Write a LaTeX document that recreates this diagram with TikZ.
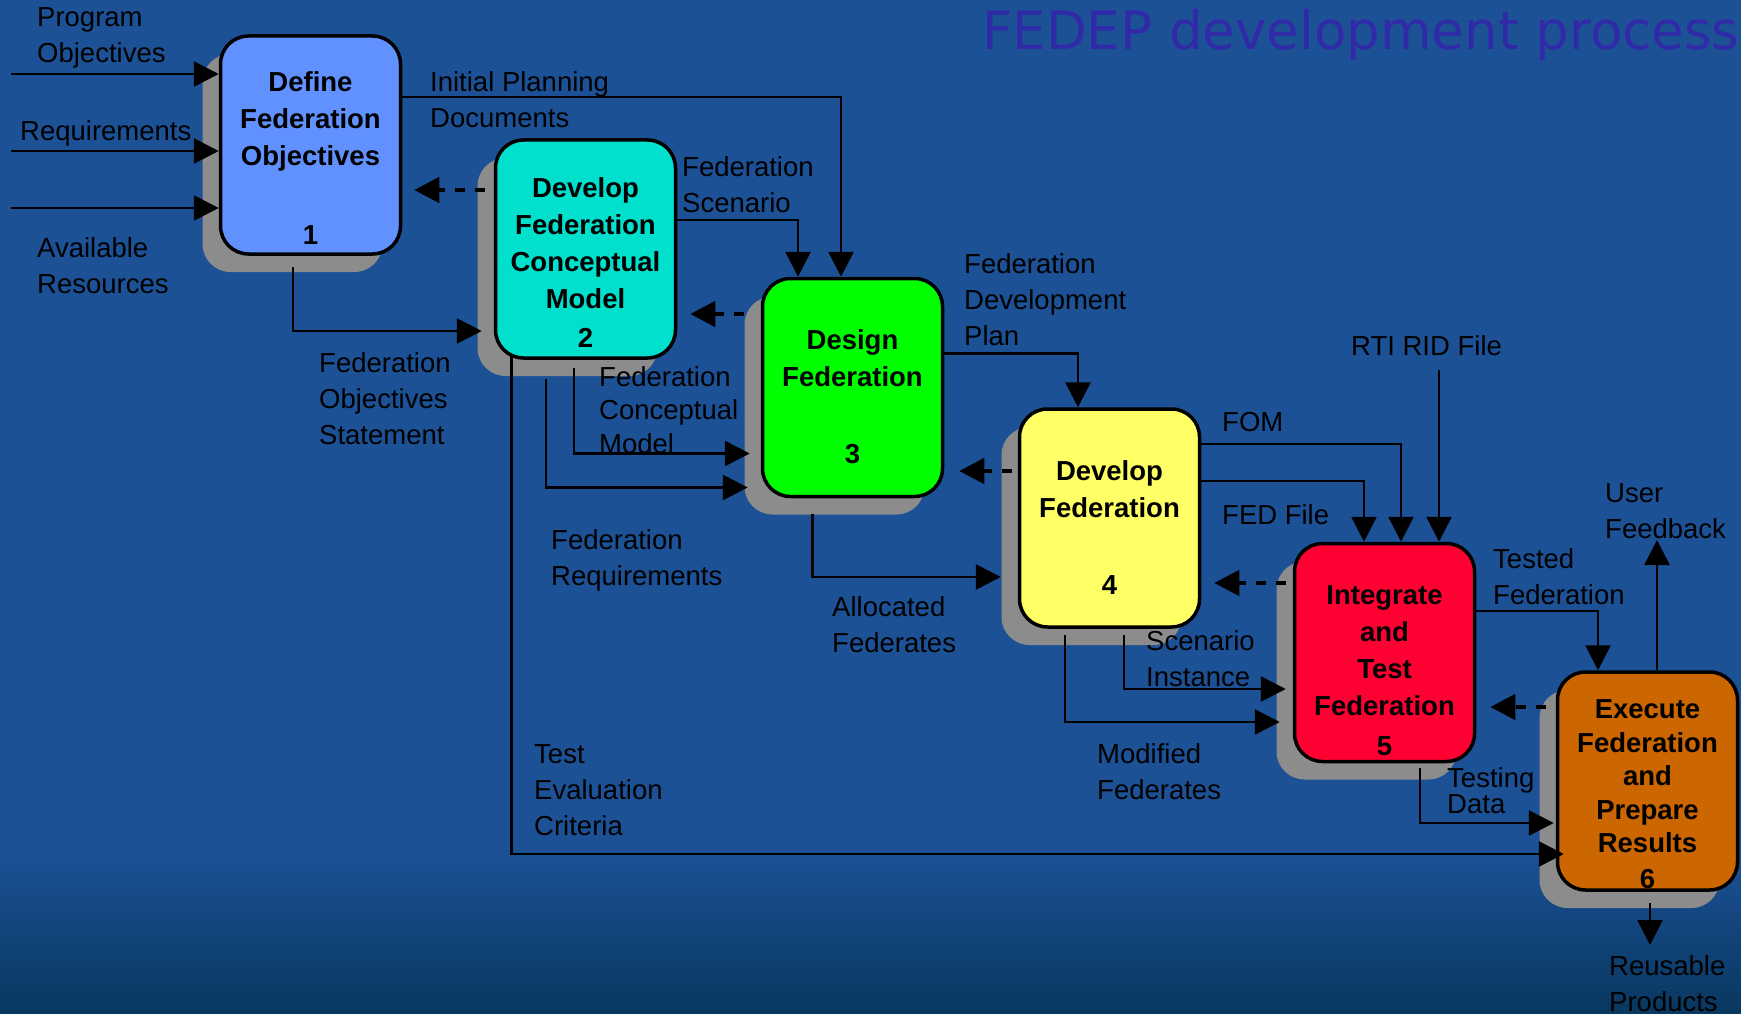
\documentclass[tikz,border=0pt]{standalone}
\usepackage{fontspec}
\setmainfont{Liberation Sans}
\newfontfamily\titlefont{DejaVu Sans}
\usetikzlibrary{arrows.meta,calc,shadows}
\definecolor{bgblue}{RGB}{28,81,150}
\definecolor{bgdark}{RGB}{8,55,95}
\definecolor{titleblue}{RGB}{48,42,168}
\definecolor{shadowgray}{RGB}{140,140,140}
\definecolor{defblue}{RGB}{97,145,255}
\definecolor{cmcyan}{RGB}{0,224,204}
\definecolor{desgreen}{RGB}{0,255,0}
\definecolor{devyellow}{RGB}{255,255,102}
\definecolor{intred}{RGB}{255,0,51}
\definecolor{exeorange}{RGB}{204,102,0}
\tikzset{
  procbox/.style={draw=black, line width=3.5pt, rounded corners=28pt, minimum width=180pt, minimum height=218pt, inner sep=0pt,
    drop shadow={shadow xshift=-18pt, shadow yshift=-18pt, fill=shadowgray, opacity=1}},
  boxtitle/.style={align=center, inner sep=0pt, font=\fontsize{27.5}{37}\selectfont\bfseries},
  boxnum/.style={inner sep=0pt, font=\fontsize{27.5}{37}\selectfont\bfseries},
  flowlabel/.style={align=left, anchor=west, inner sep=0pt, font=\fontsize{27.5}{36}\selectfont},
  flow/.style={line width=2.7pt, -{Triangle[length=25pt,width=25pt]}},
  fback/.style={flow, line width=4.5pt, dash pattern=on 10pt off 10pt}
}
\begin{document}
\begin{tikzpicture}[x=1pt, y=-1pt]
% background
\fill[bgblue] (0,0) rectangle (1741,1014);
\shade[top color=bgblue, bottom color=bgdark] (0,850) rectangle (1741,1014);
\useasboundingbox (0,0) rectangle (1741,1014);
\node[anchor=base west, inner sep=0pt, text=titleblue, font=\titlefont\fontsize{53}{60}\selectfont] (title) at (982,50) {FEDEP development process};

% process steps
\node[procbox, fill=defblue] (defobj) at (310.5,145) {};
\node[procbox, fill=cmcyan] (concept) at (585.5,249) {};
\node[procbox, fill=desgreen] (design) at (852.5,387.5) {};
\node[procbox, fill=devyellow] (develop) at (1109.5,518) {};
\node[procbox, fill=intred] (integ) at (1384.5,652.5) {};
\node[procbox, fill=exeorange] (execute) at (1647.5,781) {};

\node[boxtitle] (defobjtxt) at ($(defobj.north)+(0,87)$) {Define\\Federation\\Objectives};
\node[boxnum] (defobjnum) at ($(defobj.south)+(0,-21)$) {1};
\node[boxtitle] (concepttxt) at ($(concept.north)+(0,105)$) {Develop\\Federation\\Conceptual\\Model};
\node[boxnum] (conceptnum) at ($(concept.south)+(0,-22)$) {2};
\node[boxtitle] (designtxt) at ($(design.north)+(0,81)$) {Design\\Federation};
\node[boxnum] (designnum) at ($(design.south)+(0,-44)$) {3};
\node[boxtitle] (developtxt) at ($(develop.north)+(0,81.5)$) {Develop\\Federation};
\node[boxnum] (developnum) at ($(develop.south)+(0,-44)$) {4};
\node[boxtitle] (integtxt) at ($(integ.north)+(0,109)$) {Integrate\\and\\Test\\Federation};
\node[boxnum] (integnum) at ($(integ.south)+(0,-17)$) {5};
\node[boxtitle, font=\fontsize{27.5}{33.5}\selectfont\bfseries] (executetxt) at ($(execute.north)+(0,106)$) {Execute\\Federation\\and\\Prepare\\Results};
\node[boxnum] (executenum) at ($(execute.south)+(0,-13)$) {6};

% inputs
\coordinate (progin) at (11,74);
\coordinate (reqin) at (11,151);
\coordinate (resin) at (11,208);
\draw[flow] (progin) -- (progin -| defobj.west);
\draw[flow] (reqin) -- (reqin -| defobj.west);
\draw[flow] (resin) -- (resin -| defobj.west);

% products passed forward
\draw[flow] ($(defobj.east)+(0,-48)$) -| ($(design.north)+(-11.5,0)$);
\draw[flow] ($(concept.east)+(0,-29)$) -| ($(design.north)+(-54.5,0)$);
\draw[flow] ($(defobj.south)+(-17.5,11)$) |- ($(concept.west)+(-12,82)$);
\draw[flow] ($(concept.south)+(-11.5,8)$) |- ($(design.west)+(-11,66)$);
\draw[flow] ($(concept.south)+(-39.5,19)$) |- ($(design.west)+(-13,100)$);
\draw[flow] ($(concept.south west)+(17.5,-6)$) |- ($(execute.west)+(8,73)$);
\draw[flow] ($(design.east)+(0,-34)$) -| ($(develop.north)+(-31.5,0)$);
\draw[flow] ($(design.south)+(-40,16)$) |- ($(develop.west)+(-17,59)$);
\draw[flow] ($(develop.east)+(0,-74)$) -| ($(integ.north)+(16.5,0)$);
\draw[flow] ($(develop.east)+(0,-37)$) -| ($(integ.north)+(-20.5,0)$);
\coordinate (rtiin) at (1439,370);
\draw[flow] (rtiin) -- ($(integ.north)+(54.5,0)$);
\draw[flow] ($(develop.south)+(14.5,6)$) |- ($(integ.west)+(-7,36.5)$);
\draw[flow] ($(develop.south)+(-44.5,6)$) |- ($(integ.west)+(-13,69.5)$);
\draw[flow] ($(integ.east)+(0,-41.5)$) -| ($(execute.north)+(-49.5,0)$);
\draw[flow] ($(integ.south)+(35.5,5)$) |- ($(execute.west)+(-2,42)$);
\coordinate (fbout) at (1657,540);
\draw[flow] ($(execute.north)+(9.5,0)$) -- (fbout);
\coordinate (reuseout) at (1650,945);
\draw[flow] ($(execute.south)+(2.5,11)$) -- (reuseout);

% feedback
\draw[fback] ($(concept.west)+(-9,-59)$) -- ($(defobj.east)+(12,45)$);
\draw[fback] ($(design.west)+(-17,-73.5)$) -- ($(concept.east)+(13,65)$);
\draw[fback] ($(develop.west)+(-6,-47)$) -- ($(design.east)+(15,83.5)$);
\draw[fback] ($(integ.west)+(-7,-69.5)$) -- ($(develop.east)+(13,65)$);
\draw[fback] ($(execute.west)+(-10,-74)$) -- ($(integ.east)+(14,54.5)$);

% labels
\node[flowlabel] (progobj) at (37,38) {Program\\Objectives};
\node[flowlabel] (reqs) at (20,133) {Requirements};
\node[flowlabel] (availres) at (37,266) {Available\\Resources};
\node[flowlabel] (initplan) at (430,100) {Initial Planning\\Documents};
\node[flowlabel] (fedscen) at (682,185) {Federation\\Scenario};
\node[flowlabel] (fedobjst) at (319,399) {Federation\\Objectives\\Statement};
\node[flowlabel, font=\fontsize{27.5}{33.5}\selectfont] (fedcm) at (599,410) {Federation\\Conceptual\\Model};
\node[flowlabel] (fedreq) at (551,560) {Federation\\Requirements};
\node[flowlabel] (testeval) at (534,790) {Test\\Evaluation\\Criteria};
\node[flowlabel] (feddev) at (964,300) {Federation\\Development\\Plan};
\node[flowlabel] (allocfed) at (832,624.5) {Allocated\\Federates};
\node[flowlabel] (rtirid) at (1351,346) {RTI RID File};
\node[flowlabel] (fom) at (1222,422) {FOM};
\node[flowlabel] (fedfile) at (1222,515) {FED File};
\node[flowlabel] (sceninst) at (1146,658.5) {Scenario\\Instance};
\node[flowlabel] (modfed) at (1097,771.5) {Modified\\Federates};
\node[flowlabel] (testedfed) at (1493,577) {Tested\\Federation};
\node[flowlabel] (userfb) at (1605,511.5) {User\\Feedback};
\node[flowlabel, font=\fontsize{27.5}{26}\selectfont] (testdata) at (1447,791) {Testing\\Data};
\node[flowlabel] (reuse) at (1609,983.5) {Reusable\\Products};
\end{tikzpicture}
\end{document}
